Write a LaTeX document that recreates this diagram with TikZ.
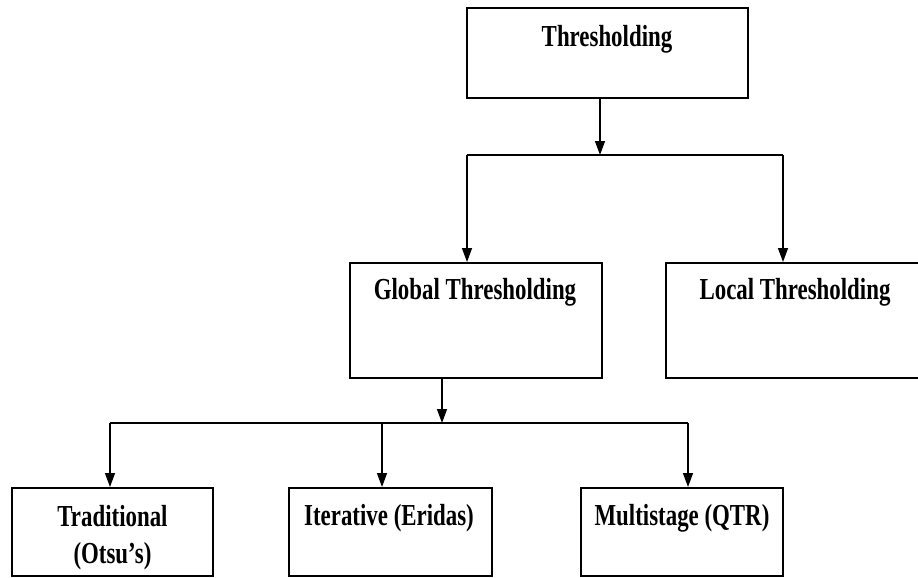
\documentclass[tikz,border=0pt]{standalone}
\usepackage{fontspec}
\setmainfont{Liberation Serif}[FakeStretch=0.75]
\usetikzlibrary{arrows.meta}
\begin{document}
\begin{tikzpicture}[x=1pt,y=-1pt,
  box/.style={draw=black, line width=2pt, fill=white, inner sep=0pt},
  lbl/.style={font=\bfseries\fontsize{30.5}{36.5}\selectfont, inner sep=0pt, anchor=base, align=center},
  conn/.style={draw=black, line width=1.4pt},
  arr/.style={conn, -{Triangle[length=14pt,width=10pt]}}]
\useasboundingbox (0,0) rectangle (918,578);
\clip (0,0) rectangle (918,578);
% boxes
\node[box, minimum width=281pt, minimum height=90pt] (thr) at (607.5,53) {};
\node[box, minimum width=252pt, minimum height=115pt] (glob) at (476,320.5) {};
\node[box, minimum width=258pt, minimum height=115pt] (loc) at (795,320.5) {};
\node[box, minimum width=201pt, minimum height=88pt] (trad) at (112.5,532) {};
\node[box, minimum width=203pt, minimum height=88pt] (iter) at (390,532) {};
\node[box, minimum width=202pt, minimum height=88pt] (mult) at (682,532) {};
% labels
\node[lbl] (thrt) at (607,47) {Thresholding};
\node[lbl] (globt) at (475,299) {Global Thresholding};
\node[lbl] (loct) at (795,299) {Local Thresholding};
\node[lbl] (tradt1) at (112.5,526) {Traditional};
\node[lbl] (tradt2) at (112.5,563) {(Otsu’s)};
\node[lbl] (itert) at (389,525) {Iterative (Eridas)};
\node[lbl] (multt) at (682,525) {Multistage (QTR)};
% junctions
\coordinate (j1) at (600,155);
\coordinate (j1l) at (467,155);
\coordinate (j1r) at (783,155);
\coordinate (j2) at (442,423);
\coordinate (j2l) at (110,423);
\coordinate (j2m) at (382,423);
\coordinate (j2r) at (688,423);
% connectors
\draw[arr] (thr.south -| j1) -- (j1);
\draw[conn] (j1l) -- (j1r);
\draw[arr] (j1l) -- (glob.north -| j1l);
\draw[arr] (j1r) -- (loc.north -| j1r);
\draw[arr] (glob.south -| j2) -- (j2);
\draw[conn] (j2l) -- (j2r);
\draw[arr] (j2l) -- (trad.north -| j2l);
\draw[arr] (j2m) -- (iter.north -| j2m);
\draw[arr] (j2r) -- (mult.north -| j2r);
\end{tikzpicture}
\end{document}
